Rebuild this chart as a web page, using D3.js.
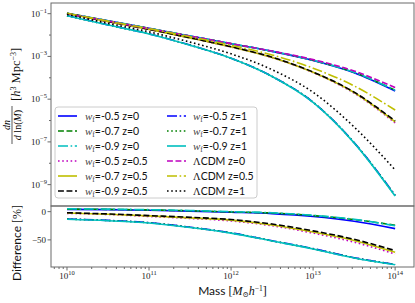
<!DOCTYPE html>
<html>
<head>
<meta charset="utf-8">
<script src="https://cdn.jsdelivr.net/npm/d3@7"></script>
<style>
  body { margin: 0; padding: 0; background: #fff; }
  svg { display: block; }
</style>
</head>
<body>
<script>
// log10 of halo mass, same grid for every curve
const logMass = [10, 10.5, 11, 11.5, 12, 12.5, 13, 13.5, 14]

// top panel: log10 of dn/dln(M)
const lcdmZ0 = [-1.00, -1.35, -1.70, -2.05, -2.40, -2.75, -3.15, -3.68, -4.46]
const lcdmZ05 = [-0.98, -1.35, -1.70, -2.08, -2.48, -2.93, -3.55, -4.38, -5.51]
const lcdmZ1 = [-1.03, -1.45, -1.85, -2.33, -2.88, -3.62, -4.68, -6.30, -8.31]

const w05z0 = [-0.983, -1.335, -1.689, -2.046, -2.404, -2.765, -3.189, -3.761, -4.615]
const w07z0 = [-0.981, -1.333, -1.687, -2.044, -2.402, -2.761, -3.182, -3.746, -4.579]
const w09z0 = [-0.979, -1.331, -1.685, -2.041, -2.400, -2.759, -3.179, -3.743, -4.585]
const w05z05 = [-0.993, -1.372, -1.739, -2.136, -2.558, -3.055, -3.758, -4.717, -6.112]
const w07z05 = [-0.991, -1.370, -1.734, -2.131, -2.551, -3.046, -3.744, -4.690, -6.063]
const w09z05 = [-0.989, -1.368, -1.732, -2.126, -2.546, -3.038, -3.730, -4.672, -6.019]
const w05z1 = [-1.091, -1.523, -1.944, -2.470, -3.084, -3.934, -5.142, -7.033, -9.497]
const w07z1 = [-1.092, -1.525, -1.946, -2.471, -3.086, -3.936, -5.146, -7.040, -9.515]
const w09z1 = [-1.093, -1.526, -1.947, -2.473, -3.088, -3.939, -5.149, -7.045, -9.532]

// bottom panel: difference to LCDM in %
const d05z0 = [4, 3.5, 2.5, 1, -1, -3.5, -8.5, -17, -30]
const d07z0 = [4.5, 4, 3, 1.5, -0.5, -2.5, -7, -14, -24]
const d09z0 = [5, 4.5, 3.5, 2, 0, -2, -6.5, -13.5, -25]
const d05z05 = [-3, -5, -8.5, -12, -16.5, -25, -38, -54, -75]
const d07z05 = [-2.5, -4.5, -7.5, -11, -15, -23.5, -36, -51, -72]
const d09z05 = [-2, -4, -7, -10, -14, -22, -34, -49, -69]
const d05z1 = [-13, -15.5, -19.5, -27.5, -37.5, -51.5, -65.5, -81.5, -93.5]
const d07z1 = [-13.2, -15.7, -19.7, -27.7, -37.7, -51.7, -65.7, -81.7, -93.7]
const d09z1 = [-13.5, -16, -20, -28, -38, -52, -66, -82, -94]

const wLabels = ["-0.5", "-0.7", "-0.9", "-0.5", "-0.7", "-0.9", "-0.5", "-0.7", "-0.9"]
const zLabels = ["0", "0", "0", "0.5", "0.5", "0.5", "1", "1", "1"]
const lcdmLabels = ["0", "0.5", "1"]

const BLUE = "#0000ff", GREEN = "#008000", CYAN = "#00bfbf"
const MAG = "#bf00bf", YEL = "#bfbf00", BLK = "#000000"
const lw = 1.6
const SOLID = null
const DASH = [5.9, 2.6]
const DOT = [1.6, 2.6]
const DASHDOT = [10, 2.6, 1.6, 2.6]

const series = [
  {top: w05z0, diff: d05z0, color: BLUE, dash: SOLID},
  {top: w07z0, diff: d07z0, color: GREEN, dash: DASH},
  {top: w09z0, diff: d09z0, color: CYAN, dash: DASHDOT},
  {top: w05z05, diff: d05z05, color: MAG, dash: DOT},
  {top: w07z05, diff: d07z05, color: YEL, dash: SOLID},
  {top: w09z05, diff: d09z05, color: BLK, dash: DASH},
  {top: w05z1, diff: d05z1, color: BLUE, dash: DASHDOT},
  {top: w07z1, diff: d07z1, color: GREEN, dash: DOT},
  {top: w09z1, diff: d09z1, color: CYAN, dash: SOLID},
]
series.forEach((s, i) => { s.w = wLabels[i]; s.z = zLabels[i] })
const lcdm = [
  {top: lcdmZ0, color: MAG, dash: DASH},
  {top: lcdmZ05, color: YEL, dash: DASHDOT},
  {top: lcdmZ1, color: BLK, dash: DOT},
]
lcdm.forEach((s, i) => { s.z = lcdmLabels[i] })

const width = 415, height = 303
const L = 51, R = 414, T = 3, MID = 206, B = 267

const x = d3.scaleLog().domain([10 ** 9.805, 10 ** 14.23]).range([L, R])
const yTop = d3.scaleLog().domain([1e-10, 10 ** -0.5]).range([MID, T])
const yBot = d3.scaleLinear().domain([-98, 10]).range([B, MID])

const svg = d3.select("body").append("svg")
  .attr("width", width).attr("height", height)

const defs = svg.append("defs")
defs.append("clipPath").attr("id", "clipTop")
  .append("rect").attr("x", L).attr("y", T).attr("width", R - L).attr("height", MID - T)
defs.append("clipPath").attr("id", "clipBot")
  .append("rect").attr("x", L).attr("y", MID).attr("width", R - L).attr("height", B - MID)

const serif = "'Liberation Serif', 'DejaVu Serif', serif"
const sans = "Lato, 'DejaVu Sans', sans-serif"
const frameColor = "#6a6a6a"

const topLine = d3.line()
  .x((d, i) => x(10 ** logMass[i]))
  .y(d => yTop(10 ** d))
  .curve(d3.curveMonotoneX)
const botLine = d3.line()
  .x((d, i) => x(10 ** logMass[i]))
  .y(d => yBot(d))
  .curve(d3.curveMonotoneX)

const styleLine = (sel) => sel
  .attr("fill", "none")
  .attr("stroke", d => d.color)
  .attr("stroke-width", lw)
  .attr("stroke-dasharray", d => d.dash ? d.dash.join(",") : null)

// top panel curves
svg.append("g").attr("clip-path", "url(#clipTop)")
  .selectAll("path")
  .data(series.concat(lcdm))
  .join("path")
  .attr("d", d => topLine(d.top))
  .call(styleLine)

// bottom panel curves
svg.append("g").attr("clip-path", "url(#clipBot)")
  .selectAll("path")
  .data(series)
  .join("path")
  .attr("d", d => botLine(d.diff))
  .call(styleLine)

// frames
svg.append("rect").attr("x", L).attr("y", T).attr("width", R - L).attr("height", MID - T)
  .attr("fill", "none").attr("stroke", frameColor).attr("stroke-width", 1)
svg.append("rect").attr("x", L).attr("y", MID).attr("width", R - L).attr("height", B - MID)
  .attr("fill", "none").attr("stroke", frameColor).attr("stroke-width", 1)

// power-of-ten label: "10" with superscript
const powLabel = (sel, exp) => {
  sel.append("tspan").text("10")
  sel.append("tspan").attr("dy", -4).attr("font-size", 6.5)
    .text(exp < 0 ? "\u2212" + (-exp) : String(exp))
}

// top y axis ticks
const yMajor = [-1, -3, -5, -7, -9]
const yMinor = [-2, -4, -6, -8]
const gy = svg.append("g")
yMajor.forEach(e => {
  const yy = yTop(10 ** e)
  gy.append("line").attr("x1", L).attr("x2", L - 3.5).attr("y1", yy).attr("y2", yy)
    .attr("stroke", frameColor)
  const t = gy.append("text").attr("x", L - 4).attr("y", yy + 3)
    .attr("text-anchor", "end").attr("font-family", serif).attr("font-size", 9).attr("fill", "#222")
  powLabel(t, e)
})
yMinor.forEach(e => {
  const yy = yTop(10 ** e)
  gy.append("line").attr("x1", L).attr("x2", L - 2).attr("y1", yy).attr("y2", yy)
    .attr("stroke", frameColor)
})

// bottom y axis ticks
const diffTicks = [0, -50]
diffTicks.forEach(v => {
  const yy = yBot(v)
  gy.append("line").attr("x1", L).attr("x2", L - 3.5).attr("y1", yy).attr("y2", yy)
    .attr("stroke", frameColor)
  gy.append("text").attr("x", L - 5).attr("y", yy + 3)
    .attr("text-anchor", "end").attr("font-family", serif).attr("font-size", 9).attr("fill", "#222")
    .text(v < 0 ? "\u2212" + (-v) : String(v))
})

// x axis ticks (bottom panel)
const xMajor = [10, 11, 12, 13, 14]
const gx = svg.append("g")
xMajor.forEach(e => {
  const xx = x(10 ** e)
  gx.append("line").attr("x1", xx).attr("x2", xx).attr("y1", B).attr("y2", B + 3.5)
    .attr("stroke", frameColor)
  const t = gx.append("text").attr("x", xx).attr("y", B + 12)
    .attr("text-anchor", "middle").attr("font-family", serif).attr("font-size", 9).attr("fill", "#222")
  powLabel(t, e)
})
const [xlo, xhi] = x.domain()
for (let e = 9; e <= 14; e++) {
  for (let k = 2; k <= 9; k++) {
    const v = k * 10 ** e
    if (v < xlo || v > xhi) continue
    gx.append("line").attr("x1", x(v)).attr("x2", x(v)).attr("y1", B).attr("y2", B + 2)
      .attr("stroke", frameColor)
  }
}

// x label
const xl = svg.append("text").attr("x", (L + R) / 2).attr("y", 295)
  .attr("text-anchor", "middle").attr("font-size", 12).attr("fill", "#111")
xl.append("tspan").attr("font-family", sans).text("Mass ")
xl.append("tspan").attr("font-family", serif).text("[")
xl.append("tspan").attr("font-family", serif).attr("font-style", "italic").text("M")
xl.append("tspan").attr("font-family", serif).attr("font-size", 7.5).attr("dy", 2).text("\u2299")
xl.append("tspan").attr("font-family", serif).attr("font-style", "italic").attr("dy", -2).text("h")
xl.append("tspan").attr("font-family", serif).attr("font-size", 7.5).attr("dy", -4).text("\u22121")
xl.append("tspan").attr("font-family", serif).attr("dy", 4).text("]")

// top y label: fraction + units, rotated
const ylab = svg.append("g")
const frac = ylab.append("g").attr("transform", "translate(12,125) rotate(-90)")
frac.append("text").attr("x", 0).attr("y", -2.5).attr("text-anchor", "middle")
  .attr("font-family", serif).attr("font-style", "italic").attr("font-size", 10).text("dn")
frac.append("line").attr("x1", -19).attr("x2", 19).attr("y1", 0).attr("y2", 0)
  .attr("stroke", "#111").attr("stroke-width", 0.7)
const den = frac.append("text").attr("x", 0).attr("y", 8.5).attr("text-anchor", "middle")
  .attr("font-family", serif).attr("font-size", 10)
den.append("tspan").attr("font-style", "italic").text("d")
den.append("tspan").text(" ln(")
den.append("tspan").attr("font-style", "italic").text("M")
den.append("tspan").text(")")
const units = ylab.append("text").attr("transform", "translate(20,101) rotate(-90)")
  .attr("font-family", serif).attr("font-size", 12.5).attr("fill", "#111")
units.append("tspan").text("[")
units.append("tspan").attr("font-style", "italic").text("h")
units.append("tspan").attr("font-size", 8).attr("dy", -4.5).text("3")
units.append("tspan").attr("dy", 4.5).text(" Mpc")
units.append("tspan").attr("font-size", 8).attr("dy", -4.5).text("\u22123")
units.append("tspan").attr("dy", 4.5).text("]")

// bottom y label
const dl = svg.append("text").attr("transform", "translate(21,243) rotate(-90)")
  .attr("text-anchor", "middle").attr("font-size", 12).attr("fill", "#111")
dl.append("tspan").attr("font-family", sans).text("Difference ")
dl.append("tspan").attr("font-family", serif).text("[%]")

// legend
const lg = svg.append("g")
lg.append("rect").attr("x", 55).attr("y", 107).attr("width", 202).attr("height", 91)
  .attr("rx", 3).attr("fill", "#fff").attr("fill-opacity", 0.8)
  .attr("stroke", "#cccccc").attr("stroke-width", 1)
const rowY = i => 116 + 15 * i
const entries = series.map(s => ({...s, kind: "w"})).concat(lcdm.map(s => ({...s, kind: "l"})))
entries.forEach((s, i) => {
  const col = Math.floor(i / 6), row = i % 6
  const sx = col === 0 ? 58 : 167
  const tx = col === 0 ? 85 : 193
  const yy = rowY(row)
  lg.append("line").datum(s).attr("x1", sx).attr("x2", sx + 19).attr("y1", yy).attr("y2", yy)
    .call(styleLine)
  const t = lg.append("text").attr("x", tx).attr("y", yy + 3.5).attr("fill", "#111").attr("font-size", 10.5)
  if (s.kind === "w") {
    t.append("tspan").attr("font-family", serif).attr("font-style", "italic").attr("font-size", 11).attr("fill", "#444").text("w")
    t.append("tspan").attr("font-family", serif).attr("font-size", 7.5).attr("dy", 2).attr("fill", "#444").text("f")
    t.append("tspan").attr("font-family", sans).attr("dy", -2).text("=" + s.w + " z=" + s.z)
  } else {
    t.append("tspan").attr("font-family", serif).attr("font-size", 10.5).text("\u039b")
    t.append("tspan").attr("font-family", sans).text("CDM z=" + s.z)
  }
})
</script>
</body>
</html>
